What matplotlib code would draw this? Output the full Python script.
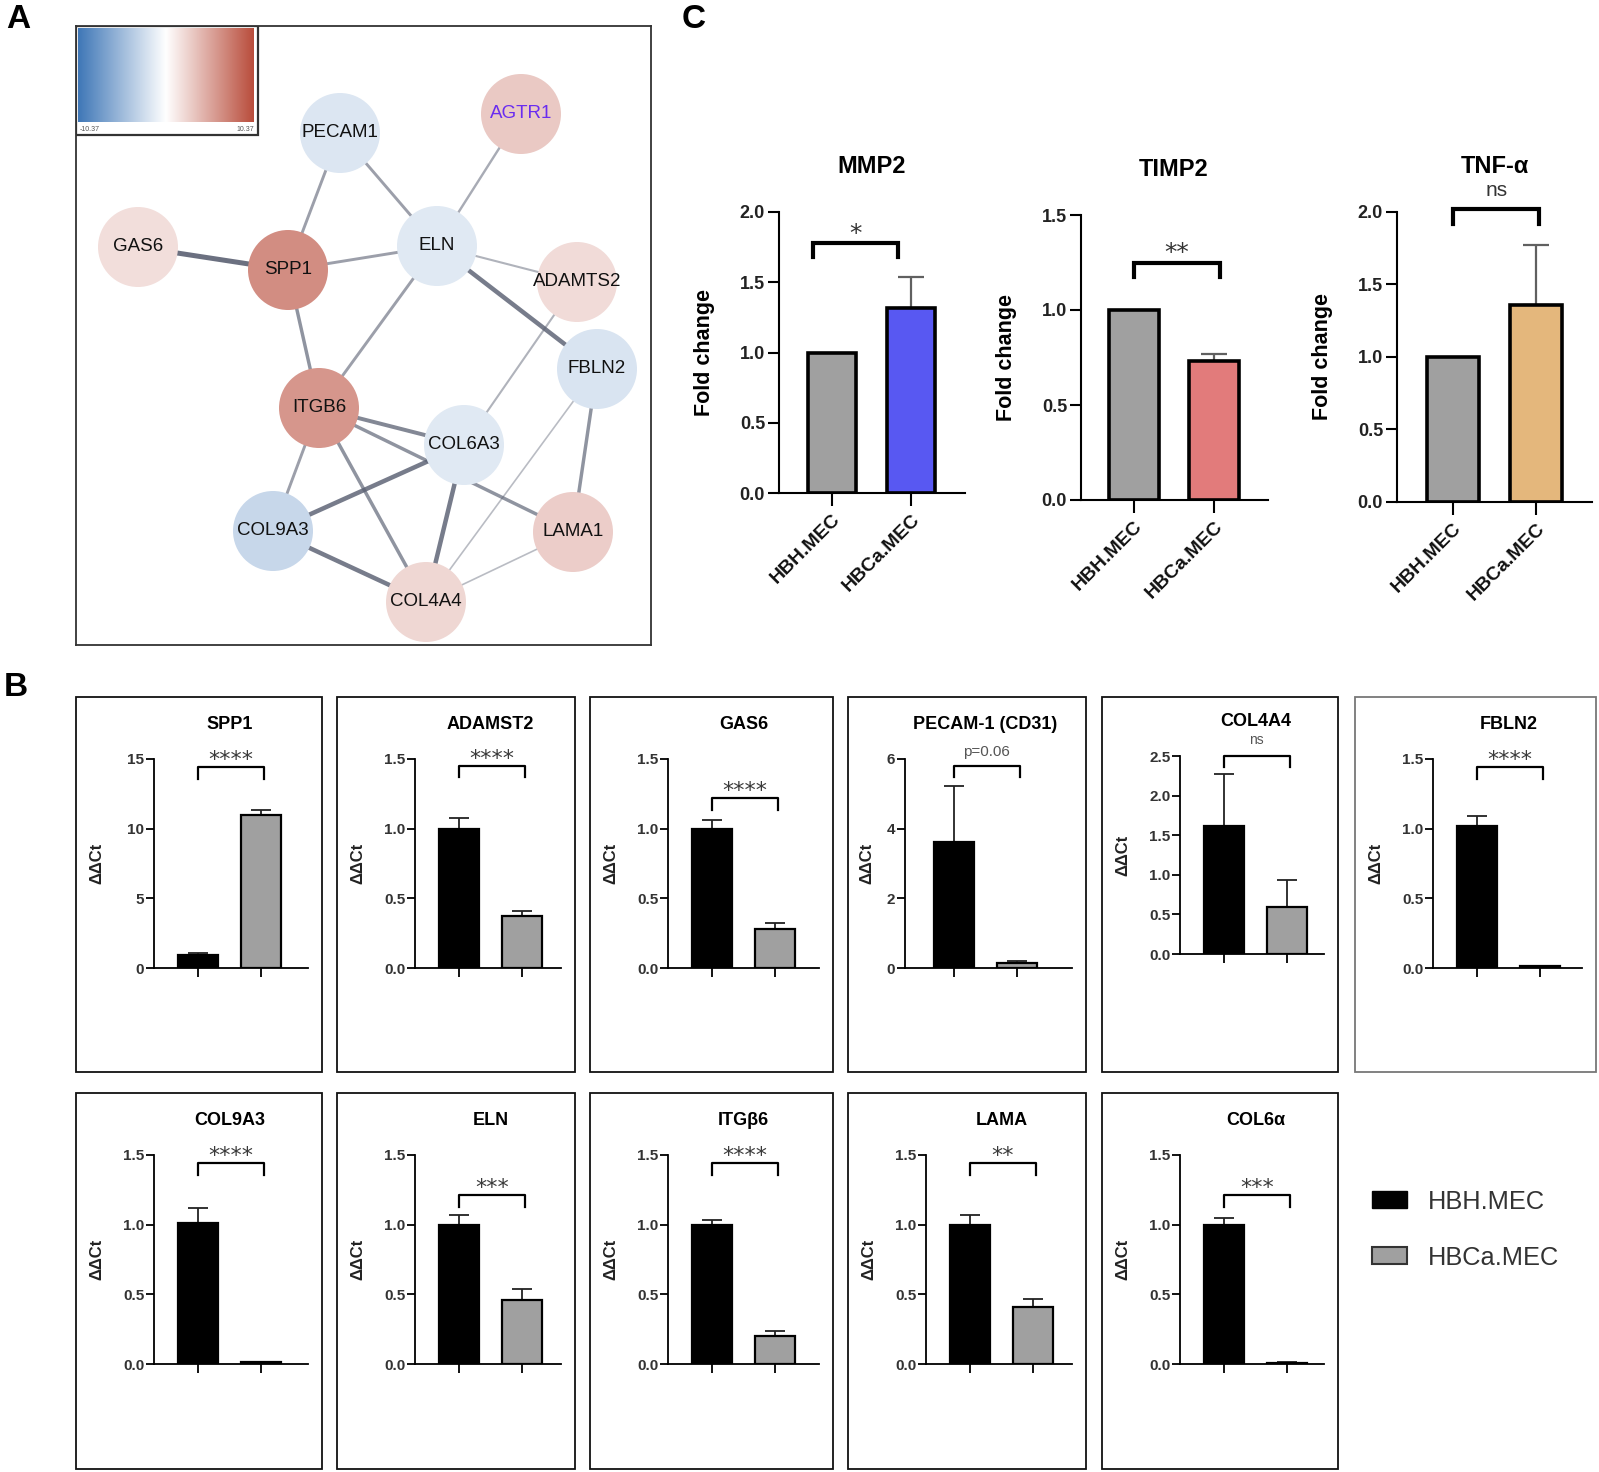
import matplotlib
matplotlib.use("Agg")
import matplotlib.pyplot as plt
import numpy as np
from matplotlib.colors import LinearSegmentedColormap, Normalize
from matplotlib.patches import Circle, Rectangle, Patch

plt.rcParams['font.family'] = ['Liberation Sans', 'DejaVu Sans']

W, H = 1599, 1472

# --- A: interaction network (layout coords, log2 fold change per node) ---
node_names = ['PECAM1', 'AGTR1', 'GAS6', 'SPP1', 'ELN', 'ADAMTS2',
              'FBLN2', 'ITGB6', 'COL6A3', 'COL9A3', 'LAMA1', 'COL4A4']
node_x = [340, 521, 138, 288, 437, 577, 597, 319, 464, 273, 573, 426]
node_y = [133, 114, 247, 270, 246, 282, 369, 408, 445, 531, 532, 602]
node_lfc = [-1.9, 3.1, 1.9, 6.6, -1.7, 2.1, -2.1, 6.1, -1.7, -3.0, 2.9, 2.3]
lfc_lim = 10.37

edges = [('PECAM1', 'SPP1'), ('PECAM1', 'ELN'), ('AGTR1', 'ELN'), ('GAS6', 'SPP1'),
         ('SPP1', 'ELN'), ('SPP1', 'ITGB6'), ('ELN', 'ADAMTS2'), ('ELN', 'FBLN2'),
         ('ELN', 'ITGB6'), ('ADAMTS2', 'COL6A3'), ('FBLN2', 'LAMA1'), ('FBLN2', 'COL4A4'),
         ('ITGB6', 'COL6A3'), ('ITGB6', 'LAMA1'), ('ITGB6', 'COL9A3'), ('ITGB6', 'COL4A4'),
         ('COL6A3', 'COL9A3'), ('COL6A3', 'COL4A4'), ('COL9A3', 'COL4A4'), ('LAMA1', 'COL4A4')]
edge_score = [2.0, 2.0, 1.5, 4.0, 2.0, 2.5, 1.2, 3.5, 2.0, 1.2, 2.5, 0.8,
              3.0, 2.5, 2.0, 2.5, 3.5, 3.5, 3.5, 0.8]

# --- C: fold change (qPCR) ---
groups = ['HBH.MEC', 'HBCa.MEC']
fc_genes = ['MMP2', 'TIMP2', 'TNF-α']
fc_hbh = [1.0, 1.0, 1.0]
fc_hbca = [1.32, 0.73, 1.36]
fc_hbca_err = [0.22, 0.04, 0.41]
fc_ymax = [2.0, 1.5, 2.0]
fc_sig = ['*', '**', 'ns']
fc_bracket = [1.78, 1.25, 2.02]
fc_bracket_x = [(-0.24, 0.84), (0.0, 1.07), (0.0, 1.04)]
fc_colors = ['#5858f2', '#e27b7b', '#e4b77c']

# --- B: ddCt per gene ---
pcr_genes = ['SPP1', 'ADAMST2', 'GAS6', 'PECAM-1 (CD31)', 'COL4A4', 'FBLN2',
             'COL9A3', 'ELN', 'ITGβ6', 'LAMA', 'COL6α']
hbh_mean = [0.95, 1.0, 1.0, 3.63, 1.62, 1.02, 1.01, 1.0, 1.0, 1.0, 1.0]
hbh_err = [0.12, 0.08, 0.06, 1.59, 0.65, 0.07, 0.11, 0.07, 0.03, 0.07, 0.05]
hbca_mean = [11.0, 0.37, 0.28, 0.15, 0.59, 0.012, 0.012, 0.46, 0.20, 0.41, 0.008]
hbca_err = [0.35, 0.04, 0.04, 0.05, 0.34, 0.004, 0.004, 0.08, 0.04, 0.06, 0.003]
pcr_ymax = [15, 1.5, 1.5, 6, 2.5, 1.5, 1.5, 1.5, 1.5, 1.5, 1.5]
pcr_ystep = [5, 0.5, 0.5, 2, 0.5, 0.5, 0.5, 0.5, 0.5, 0.5, 0.5]
pcr_sig = ['****', '****', '****', 'p=0.06', 'ns', '****', '****', '***', '****', '**', '***']
pcr_bracket = [14.4, 1.45, 1.22, 5.8, 2.5, 1.44, 1.44, 1.21, 1.44, 1.44, 1.21]

fig = plt.figure(figsize=(W / 100, H / 100), dpi=100)


def px_axes(l, t, r, b):
    return fig.add_axes([l / W, 1 - b / H, (r - l) / W, (b - t) / H])


# background layer: boxes, panel letters
bg = fig.add_axes([0, 0, 1, 1])
bg.set_xlim(0, W)
bg.set_ylim(H, 0)
bg.axis('off')
for letter, (lx, ly) in zip('ACB', [(18, 19), (694, 19), (16, 687)]):
    bg.text(lx, ly, letter, fontsize=24, fontweight='bold', ha='center', va='center')

# ---------------- A ----------------
cmap = LinearSegmentedColormap.from_list('lfc', ['#3f77b7', '#ffffff', '#b94d3c'])
norm = Normalize(-lfc_lim, lfc_lim)

ax = px_axes(76, 26, 651, 645)
ax.set_xlim(76, 651)
ax.set_ylim(645, 26)
ax.set_xticks([])
ax.set_yticks([])
for s in ax.spines.values():
    s.set_color('#333333')
    s.set_linewidth(1.3)
pos = {n: (x, y) for n, x, y in zip(node_names, node_x, node_y)}
for (a, b), w in zip(edges, edge_score):
    ax.plot([pos[a][0], pos[b][0]], [pos[a][1], pos[b][1]], color='#5a6072',
            alpha=min(0.3 + 0.15 * w, 0.95), lw=0.6 + 0.75 * w, zorder=1,
            solid_capstyle='butt')
for n, x, y, v in zip(node_names, node_x, node_y, node_lfc):
    ax.add_patch(Circle((x, y), 40, facecolor=cmap(norm(v)), edgecolor='none', zorder=2))
    ax.text(x, y, n, ha='center', va='center', fontsize=13.5, zorder=3,
            color='#6a2cf0' if n == 'AGTR1' else '#111111')
ax.add_patch(Rectangle((76, 26), 182, 109, facecolor='white', edgecolor='#333333',
                       lw=1.6, zorder=4))
ax.text(80, 130, '-10.37', fontsize=5, color='#555555', va='center', zorder=5)
ax.text(254, 130, '10.37', fontsize=5, color='#555555', va='center', ha='right', zorder=5)

cax = px_axes(78, 28, 254, 122)
cax.imshow(np.linspace(-lfc_lim, lfc_lim, 256)[None, :], aspect='auto', cmap=cmap, norm=norm)
cax.axis('off')

# ---------------- C ----------------
fc_layout = [(779, 212, 965, 493, 53, 79), (1081, 215, 1268, 500, 53, 80),
             (1397, 212, 1592, 502, 56, 83)]
for i, gene in enumerate(fc_genes):
    l, t, r, b, off, unit = fc_layout[i]
    ax = px_axes(l, t, r, b)
    ax.set_xlim(-off / unit, (r - l - off) / unit)
    ymax = fc_ymax[i]
    ax.set_ylim(0, ymax)
    ax.bar([0, 1], [fc_hbh[i], fc_hbca[i]], width=0.62, color=['#a0a0a0', fc_colors[i]],
           edgecolor='black', linewidth=2.6, zorder=2)
    ax.errorbar([1], [fc_hbca[i]], yerr=[[0], [fc_hbca_err[i]]], fmt='none',
                ecolor='#606060', elinewidth=1.6, capsize=9.5, capthick=1.6, zorder=1)
    for s in ['top', 'right']:
        ax.spines[s].set_visible(False)
    for s in ['left', 'bottom']:
        ax.spines[s].set_linewidth(1.5)
    ax.set_yticks(np.arange(0, ymax + 0.01, 0.5))
    ax.set_yticklabels([f'{v:.1f}' for v in np.arange(0, ymax + 0.01, 0.5)],
                       fontsize=13, fontweight='bold', color='#222222')
    ax.set_xticks([0, 1])
    ax.set_xticklabels(groups, rotation=45, ha='right', va='top', rotation_mode='anchor',
                       fontsize=14, fontweight='bold', color='#111111')
    ax.tick_params(axis='y', length=8, width=1.5, pad=2)
    ax.tick_params(axis='x', length=9, width=1.5, pad=4)
    ax.set_ylabel('Fold change', fontsize=15.5, fontweight='bold')
    ax.yaxis.set_label_coords(-64 / (r - l), 0.5)
    ax.annotate(gene, xy=(0.5, ymax), xycoords='data', xytext=(0, 33),
                textcoords='offset points', ha='center', va='center',
                fontsize=17, fontweight='bold', annotation_clip=False)
    x0, x1 = fc_bracket_x[i]
    yb = fc_bracket[i]
    leg = 0.05 * ymax
    ax.plot([x0, x0, x1, x1], [yb - leg, yb, yb, yb - leg], color='black', lw=3,
            clip_on=False, solid_joinstyle='miter')
    if fc_sig[i] == 'ns':
        ax.annotate('ns', xy=((x0 + x1) / 2, yb), xytext=(0, 9.5), textcoords='offset points',
                    ha='center', va='baseline', fontsize=15, color='#333333',
                    annotation_clip=False)
    else:
        ax.annotate(fc_sig[i], xy=((x0 + x1) / 2, yb), xytext=(0, 1.5),
                    textcoords='offset points', ha='center', va='baseline',
                    fontsize=18, family='DejaVu Sans', color='#333333',
                    annotation_clip=False)

# ---------------- B ----------------
box_cols = [(76, 322), (337, 575), (590, 833), (848, 1086), (1102, 1338), (1355, 1596)]
box_rows = [(697, 1072), (1093, 1469)]
for i, gene in enumerate(pcr_genes):
    row = 0 if i < 6 else 1
    bl, br = box_cols[i if i < 6 else i - 6]
    bt, bb = box_rows[row]
    bg.add_patch(Rectangle((bl, bt), br - bl, bb - bt, facecolor='none',
                           edgecolor='#777777' if gene == 'FBLN2' else '#111111', lw=1.3))
    left_off = 57 if gene.startswith('PECAM') else 78
    t_off, b_off = (59, 257) if gene == 'COL4A4' else (62, 271)
    l, r, t, b = bl + left_off, br - 14, bt + t_off, bt + b_off
    ax = px_axes(l, t, r, b)
    unit = 63
    off = 49 if gene.startswith('PECAM') else 44
    ax.set_xlim(-off / unit, (r - l - off) / unit)
    ymax = pcr_ymax[i]
    ax.set_ylim(0, ymax)
    ax.bar([0, 1], [hbh_mean[i], hbca_mean[i]], width=0.64, color=['black', '#a0a0a0'],
           edgecolor='black', linewidth=1.6, zorder=2)
    ax.errorbar([0, 1], [hbh_mean[i], hbca_mean[i]], yerr=[[0, 0], [hbh_err[i], hbca_err[i]]],
                fmt='none', ecolor='#222222', elinewidth=1.3, capsize=7.5, capthick=1.3, zorder=1)
    for s in ['top', 'right']:
        ax.spines[s].set_visible(False)
    for s in ['left', 'bottom']:
        ax.spines[s].set_linewidth(1.3)
    step = pcr_ystep[i]
    ticks = np.arange(0, ymax + 1e-6, step)
    ax.set_yticks(ticks)
    ax.set_yticklabels([f'{v:.0f}' if step >= 1 else f'{v:.1f}' for v in ticks],
                       fontsize=11, fontweight='bold', color='#333333')
    ax.set_xticks([0, 1])
    ax.set_xticklabels([])
    ax.tick_params(axis='y', length=6, width=1.3, pad=1)
    ax.tick_params(axis='x', length=6.5, width=1.3)
    ax.set_ylabel('ΔΔCt', fontsize=12, fontweight='bold', color='#222222')
    ax.yaxis.set_label_coords(-(50 if not gene.startswith('PECAM') else 31) / (r - l), 0.5)
    ax.annotate(gene, xy=(0.5, ymax), xycoords='data', xytext=(0, 24.5),
                textcoords='offset points', ha='center', va='center',
                fontsize=13, fontweight='bold', annotation_clip=False)
    yb = pcr_bracket[i]
    leg = 0.055 * ymax
    ax.plot([0, 0, 1.04, 1.04], [yb - leg, yb, yb, yb - leg], color='black', lw=1.6,
            clip_on=False)
    if pcr_sig[i].startswith('*'):
        ax.annotate(pcr_sig[i], xy=(0.52, yb), xytext=(0, 1), textcoords='offset points',
                    ha='center', va='baseline', fontsize=16, family='DejaVu Sans',
                    color='#3a3a3a', annotation_clip=False)
    else:
        ax.annotate(pcr_sig[i], xy=(0.52, yb), xytext=(0, 7 if pcr_sig[i] != 'ns' else 9),
                    textcoords='offset points', ha='center', va='baseline',
                    fontsize=11 if pcr_sig[i] != 'ns' else 10, color='#555555',
                    annotation_clip=False)

handles = [Patch(facecolor='black', edgecolor='black'),
           Patch(facecolor='#a0a0a0', edgecolor='#333333', linewidth=1.5)]
fig.legend(handles, groups, loc='upper left', bbox_to_anchor=(1349 / W, 1 - 1167 / H),
           frameon=False, fontsize=18.3, handlelength=1.4, handleheight=0.65,
           handletextpad=0.8, labelspacing=1.25, labelcolor='#333333')

fig.savefig('out.png', dpi=100)
